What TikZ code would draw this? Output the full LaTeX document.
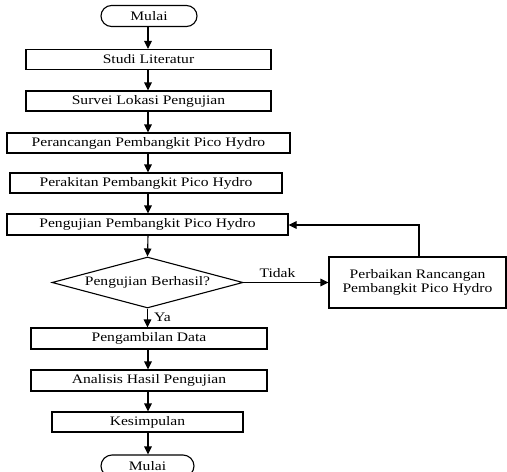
\documentclass[tikz,border=0pt]{standalone}
\usepackage{fontspec}
\setmainfont{Liberation Serif}[FakeStretch=1.2]
\usetikzlibrary{arrows.meta,positioning,calc,shapes.geometric}
\begin{document}
\begin{tikzpicture}[x=1pt,y=-1pt,
  every node/.style={font=\fontsize{13}{13.5}\selectfont, inner sep=0pt},
  procbox/.style={draw, line width=1.1pt, rectangle, minimum height=20pt, anchor=center},
  termbox/.style={draw, line width=1.1pt, rectangle, rounded corners=10.5pt, minimum height=21pt},
  flow/.style={line width=1.1pt, -{Triangle[length=8pt,width=7.5pt]}},
  lbl/.style={font=\fontsize{13}{13.5}\selectfont}
]
\useasboundingbox (0,0) rectangle (507,472);
\node[termbox, minimum width=96pt] (start) at (149,16) {Mulai};
\node[procbox, minimum width=245pt] (studi) at (148.5,59.5) {Studi Literatur};
\node[procbox, minimum width=245pt] (survei) at (148.5,101) {Survei Lokasi Pengujian};
\node[procbox, minimum width=283pt] (rancang) at (148.5,143) {Perancangan Pembangkit Pico Hydro};
\node[procbox, minimum width=272pt] (rakit) at (146,183) {Perakitan Pembangkit Pico Hydro};
\node[procbox, minimum width=281pt, minimum height=21pt] (uji) at (147.5,224.5) {Pengujian Pembangkit Pico Hydro};
\node[draw, line width=1.1pt, diamond, aspect=3.75, minimum width=191pt, minimum height=51pt, inner sep=0pt] (cek) at (147.5,282.5) {};
\node (cektext) at (cek.center) {Pengujian Berhasil?};
\node[draw, line width=1.1pt, rectangle, minimum width=177pt, minimum height=51pt, align=center] (perbaikan) at (417.5,282.5) {Perbaikan Rancangan\\Pembangkit Pico Hydro};
\node[procbox, minimum width=236pt, minimum height=21pt] (ambil) at (149,338.5) {Pengambilan Data};
\node[procbox, minimum width=236pt, minimum height=21pt] (analisis) at (149,380.5) {Analisis Hasil Pengujian};
\node[procbox, minimum width=191pt] (simpul) at (147.5,422) {Kesimpulan};
\node[termbox, minimum width=93pt, minimum height=22pt, rounded corners=11pt] (finish) at (147.5,466) {Mulai};
\coordinate (ax) at (148,0);
\draw[flow] (start.south -| ax) -- (studi.north -| ax);
\draw[flow] (studi.south -| ax) -- (survei.north -| ax);
\draw[flow] (survei.south -| ax) -- (rancang.north -| ax);
\draw[flow] (rancang.south -| ax) -- (rakit.north -| ax);
\draw[flow] (rakit.south -| ax) -- (uji.north -| ax);
\draw[flow] (uji.south -| ax) -- (cek.north);
\draw[flow] (cek.east) -- node[lbl, above=4pt, pos=0.4] {Tidak} (perbaikan.west);
\draw[flow] (cek.south) -- node[lbl, right=6pt, pos=0.45] {Ya} (ambil.north -| cek.south);
\coordinate (fb) at (419,225);
\draw[flow] (perbaikan.north -| fb) -- (fb) -- (uji.east |- fb);
\draw[flow] (ambil.south -| ax) -- (analisis.north -| ax);
\draw[flow] (analisis.south -| ax) -- (simpul.north -| ax);
\draw[flow] (simpul.south -| ax) -- (finish.north -| ax);
\end{tikzpicture}
\end{document}
